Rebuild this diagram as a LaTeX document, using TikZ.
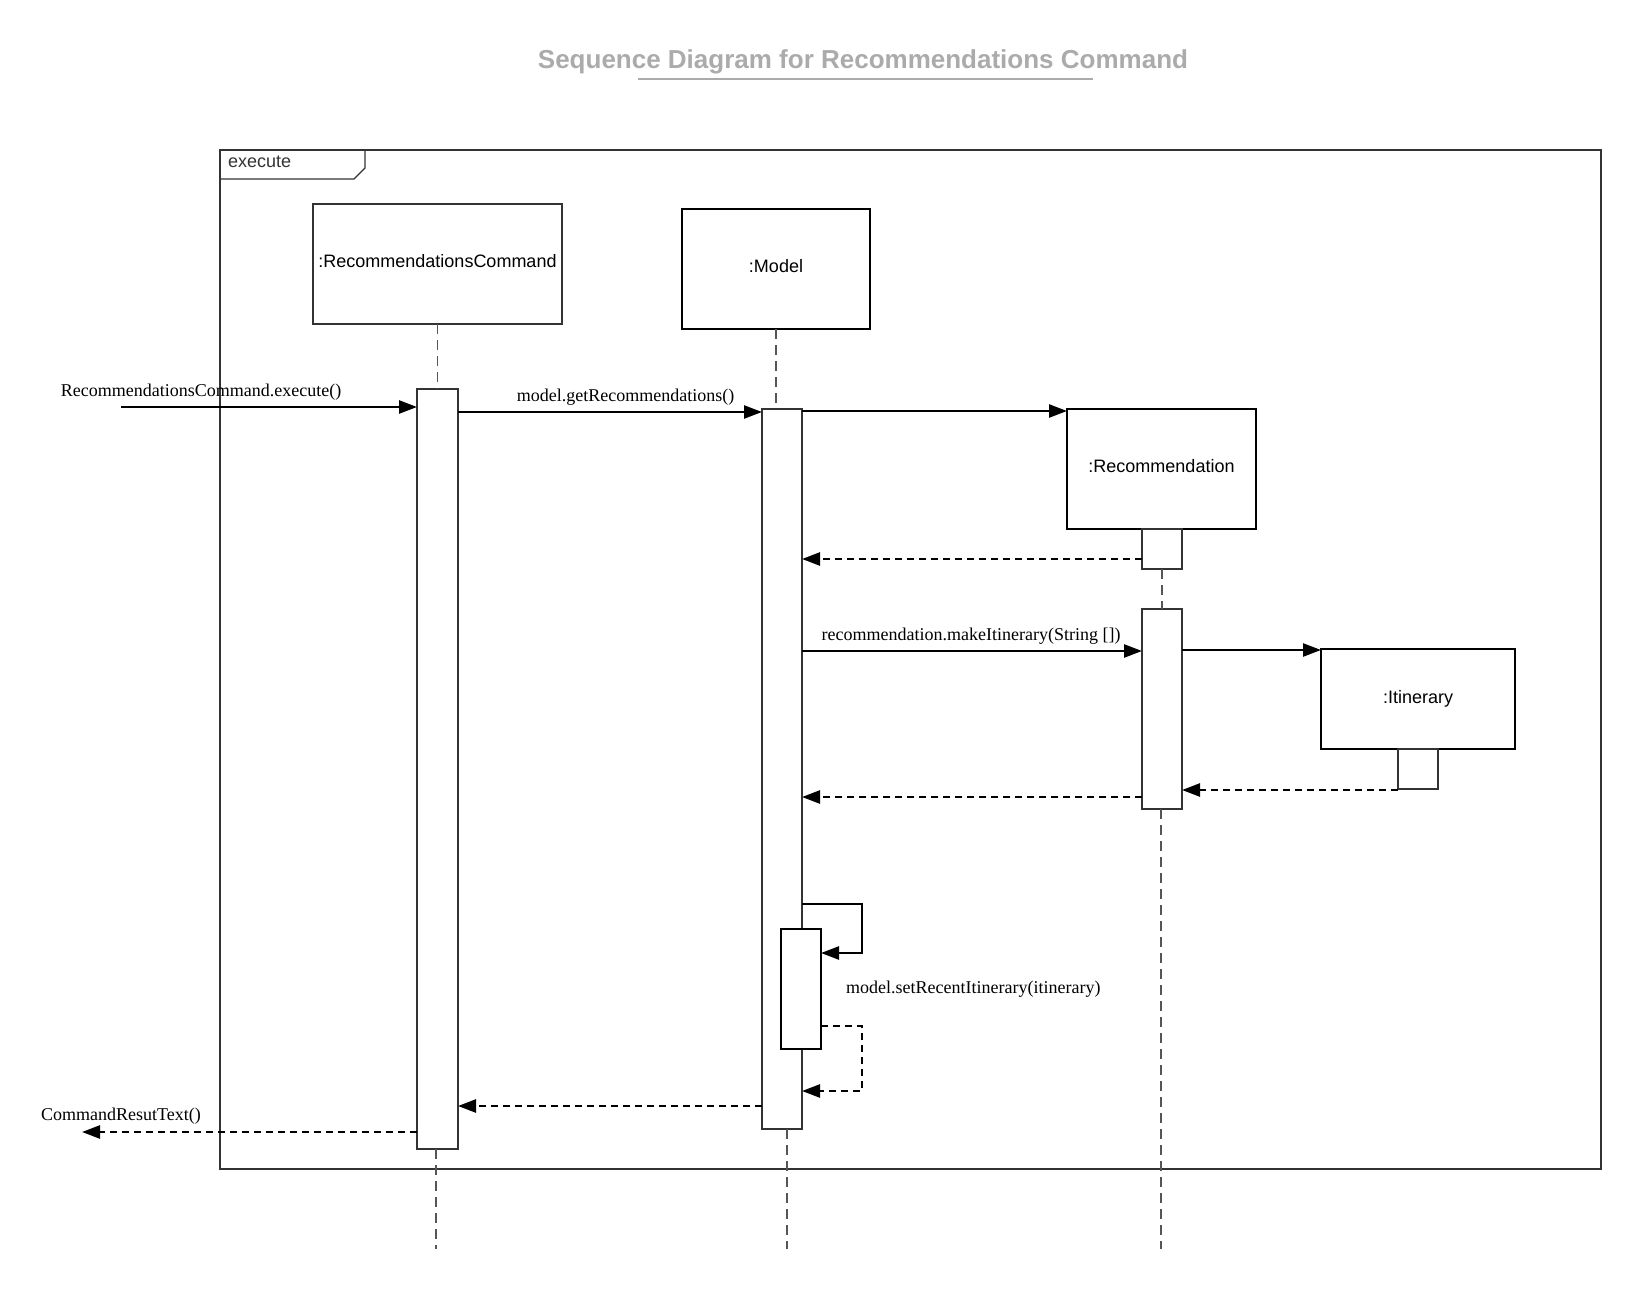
\documentclass[tikz,border=0pt]{standalone}
\usepackage{fontspec}
\setmainfont{Liberation Serif}
\setsansfont{Liberation Sans}
\usetikzlibrary{arrows.meta}
\definecolor{titlegray}{HTML}{ABABAB}
\definecolor{framegray}{HTML}{333333}
\definecolor{lifegray}{HTML}{555555}
\begin{document}
\begin{tikzpicture}[x=1pt,y=-1pt,
  objbox/.style={draw=black, line width=1.3pt, fill=white, inner sep=0pt, outer sep=0pt, font=\sffamily\fontsize{18}{22}\selectfont},
  actbar/.style={draw=framegray, line width=1.2pt, fill=white, inner sep=0pt, outer sep=0pt, minimum width=40pt},
  lifeline/.style={draw=lifegray, line width=1.3pt, dash pattern=on 10pt off 6pt},
  msg/.style={line width=2.5pt, -{Triangle[length=18pt,width=13pt]}},
  retmsg/.style={msg, dash pattern=on 7pt off 5pt},
  lbl/.style={font=\fontsize{18}{22}\selectfont, inner sep=0pt},
]
\fill[white] (0,0) rectangle (1641,1289);
\useasboundingbox (0,0) rectangle (1641,1289);

% title
\node[font=\sffamily\bfseries\fontsize{26}{30}\selectfont, text=titlegray, anchor=base, inner sep=0pt] (title) at (863,69) {Sequence Diagram for Recommendations Command};
\coordinate (ulA) at (638,79);
\coordinate (ulB) at (1093,79);
\draw[titlegray, line width=2.5pt] (ulA) -- (ulB);

% frame
\node[draw=framegray, line width=1.2pt, minimum width=1381pt, minimum height=1019pt, inner sep=0pt, outer sep=0pt] (frame) at (910.5,659.5) {};
\draw[framegray, line width=1.2pt] (frame.north west |- 0,179) -- (354,179) -- (365,168) -- (365,150);
\node[font=\sffamily\fontsize{18}{22}\selectfont, anchor=base west, inner sep=0pt, text=framegray] (fname) at (228,168) {execute};

% objects
\node[objbox, draw=framegray, text depth=6pt, minimum width=249pt, minimum height=120pt] (rcbox) at (437.5,264) {:RecommendationsCommand};
\node[objbox, text depth=6pt, minimum width=188pt, minimum height=120pt] (modelbox) at (776,269) {:Model};
\node[objbox, text depth=6pt, minimum width=189pt, minimum height=120pt] (recbox) at (1161.5,469) {:Recommendation};
\node[objbox, minimum width=194pt, minimum height=100pt] (itbox) at (1418,699) {:Itinerary};

% activation bars
\node[actbar, minimum width=41pt, minimum height=760pt] (rcact) at (437.5,769) {};
\node[actbar, minimum height=720pt] (modelact) at (782,769) {};
\node[actbar, minimum height=40pt] (recact1) at (1162,549) {};
\node[actbar, minimum height=200pt] (recact2) at (1162,709) {};
\node[actbar, minimum height=40pt] (itact) at (1418,769) {};
\node[actbar, draw=black, line width=2.5pt, minimum height=120pt] (selfact) at (801,989) {};

% lifelines
\coordinate (rcend) at (436,1249);
\coordinate (mend) at (787,1249);
\coordinate (recend) at (1161,1249);
\draw[lifeline] (rcbox.south) -- (rcact.north);
\draw[lifeline] (rcact.south -| rcend) -- (rcend);
\draw[lifeline] (modelbox.south) -- (modelbox.south |- modelact.north);
\draw[lifeline] (modelact.south -| mend) -- (mend);
\draw[lifeline] (recact1.south) -- (recact2.north);
\draw[lifeline] (recact2.south -| recend) -- (recend);

% messages
\coordinate (m1start) at (121,407);
\coordinate (r5end) at (82,1132);
\draw[msg] (m1start) -- (rcact.west |- m1start);
\node[lbl, anchor=base] (l1) at (201,396) {RecommendationsCommand.execute()};

\draw[msg] (rcact.east |- 0,412) -- (modelact.west |- 0,412);
\node[lbl, anchor=base] (l2) at (625.5,401) {model.getRecommendations()};

\draw[msg] (modelact.east |- 0,411) -- (recbox.west |- 0,411);
\draw[retmsg] (recact1.west |- 0,559) -- (modelact.east |- 0,559);

\draw[msg] (modelact.east |- 0,651) -- (recact2.west |- 0,651);
\node[lbl, anchor=base] (l4) at (971,640) {recommendation.makeItinerary(String [])};

\draw[msg] (recact2.east |- 0,650) -- (itbox.west |- 0,650);
\draw[retmsg] (itact.west |- 0,790) -- (recact2.east |- 0,790);
\draw[retmsg] (recact2.west |- 0,797) -- (modelact.east |- 0,797);

% self call
\draw[msg, line join=miter] (modelact.east |- 0,904) -- (862,904) -- (862,953) -- (selfact.east |- 0,953);
\draw[retmsg, line join=miter] (selfact.east |- 0,1026) -- (862,1026) -- (862,1091) -- (modelact.east |- 0,1091);
\node[lbl, anchor=base west] (l6) at (846,993) {model.setRecentItinerary(itinerary)};

\draw[retmsg] (modelact.west |- 0,1106) -- (rcact.east |- 0,1106);
\draw[retmsg] (rcact.west |- r5end) -- (r5end);
\node[lbl, anchor=base west] (l8) at (41,1120) {CommandResutText()};
\end{tikzpicture}
\end{document}
